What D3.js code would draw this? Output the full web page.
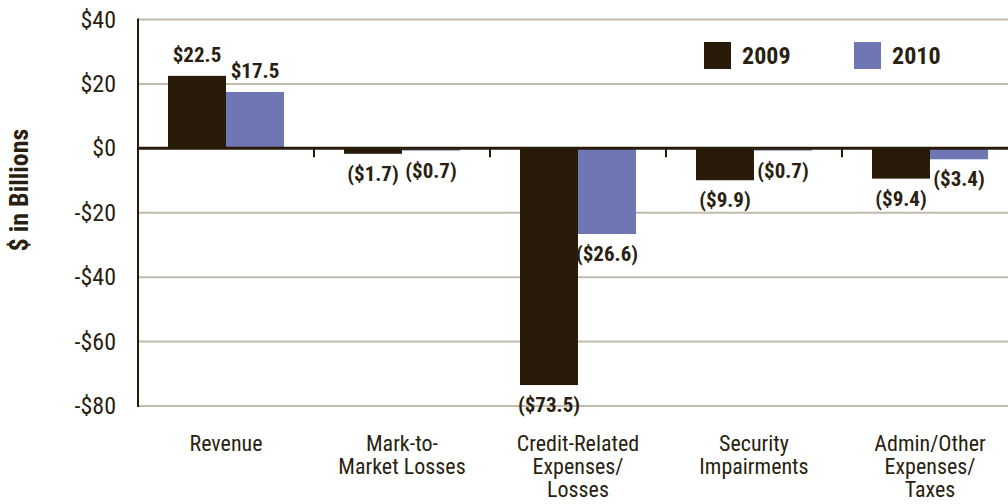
<!DOCTYPE html>
<html>
<head>
<meta charset="utf-8">
<script src="https://cdn.jsdelivr.net/npm/d3@7"></script>
<style>
  body { margin: 0; background: #fff; }
  text { font-family: "Liberation Sans Narrow", "Roboto Condensed", "Liberation Sans", sans-serif; fill: #2a1f10; }
</style>
</head>
<body>
<script>
// data
var categories = ["Revenue", "Mark-to-Market Losses", "Credit-Related Expenses/ Losses", "Security Impairments", "Admin/Other Expenses/ Taxes"];
var categoryLines = [["Revenue"], ["Mark-to-", "Market Losses"], ["Credit-Related", "Expenses/", "Losses"], ["Security", "Impairments"], ["Admin/Other", "Expenses/", "Taxes"]];
var series = ["2009", "2010"];
var values2009 = [22.5, -1.7, -73.5, -9.9, -9.4];
var values2010 = [17.5, -0.7, -26.6, -0.7, -3.4];
var yTicks = [40, 20, 0, -20, -40, -60, -80];

var colors = { "2009": "#281b0a", "2010": "#6e76b4" };

var w = 1008, h = 504;
var mLeft = 138, mRight = 1018, mTop = 19.5, mBottom = 406;

var svg = d3.select("body").append("svg")
  .attr("width", w)
  .attr("height", h);

var y = d3.scaleLinear().domain([-80, 40]).range([mBottom, mTop]);
var x0 = d3.scaleBand().domain(categories).range([mLeft, mRight]);
var x1 = d3.scaleBand().domain(series).range([30, x0.bandwidth() - 30]);

// gridlines
svg.selectAll(".grid")
  .data(yTicks.filter(d => d != 0))
  .enter().append("line")
  .attr("x1", mLeft).attr("x2", w)
  .attr("y1", d => y(d)).attr("y2", d => y(d))
  .attr("stroke", "#c2bbad")
  .attr("stroke-width", 2);

// y tick labels
svg.selectAll(".ylab")
  .data(yTicks)
  .enter().append("text")
  .attr("x", 116)
  .attr("y", d => y(d) + 8)
  .attr("text-anchor", "end")
  .style("font-size", "24px")
  .text(d => d < 0 ? "-$" + Math.abs(d) : "$" + d);

// y title
svg.append("text")
  .attr("transform", "translate(28, 190) rotate(-90)")
  .attr("text-anchor", "middle")
  .style("font-size", "26px")
  .style("font-weight", "bold")
  .text("$ in Billions");

var rows = categories.map((c, i) => ({ cat: c, vals: [values2009[i], values2010[i]] }));

var groups = svg.selectAll(".cat")
  .data(rows)
  .enter().append("g")
  .attr("transform", d => "translate(" + x0(d.cat) + ",0)");

groups.selectAll("rect")
  .data(d => d.vals.map((v, j) => ({ s: series[j], v: v })))
  .enter().append("rect")
  .attr("x", d => x1(d.s))
  .attr("width", x1.bandwidth())
  .attr("y", d => y(Math.max(0, d.v)))
  .attr("height", d => Math.abs(y(d.v) - y(0)))
  .attr("fill", d => colors[d.s]);

groups.selectAll(".val")
  .data(d => d.vals.map((v, j) => ({ s: series[j], v: v })))
  .enter().append("text")
  .attr("x", d => x1(d.s) + x1.bandwidth() / 2)
  .attr("y", d => d.v >= 0 ? y(d.v) - 14 : y(d.v) + 27)
  .attr("text-anchor", "middle")
  .style("font-size", "21px")
  .style("font-weight", "bold")
  .text(d => d.v >= 0 ? "$" + d.v.toFixed(1) : "($" + Math.abs(d.v).toFixed(1) + ")");

// category labels, one text per line
groups.each(function (d, i) {
  d3.select(this).selectAll(".catlab")
    .data(categoryLines[i])
    .enter().append("text")
    .attr("x", x0.bandwidth() / 2)
    .attr("y", (line, k) => 451 + k * 23)
    .attr("text-anchor", "middle")
    .style("font-size", "22px")
    .text(line => line);
});

// zero line and ticks
svg.append("line")
  .attr("x1", mLeft).attr("x2", w)
  .attr("y1", y(0)).attr("y2", y(0))
  .attr("stroke", "#281b0a")
  .attr("stroke-width", 3);

svg.selectAll(".tick")
  .data(categories.slice(1))
  .enter().append("line")
  .attr("x1", d => x0(d)).attr("x2", d => x0(d))
  .attr("y1", y(0)).attr("y2", y(0) + 9)
  .attr("stroke", "#281b0a")
  .attr("stroke-width", 2);

// left axis
svg.append("line")
  .attr("x1", mLeft).attr("x2", mLeft)
  .attr("y1", mTop - 1).attr("y2", mBottom + 1)
  .attr("stroke", "#281b0a")
  .attr("stroke-width", 2);

// legend
var legend = svg.selectAll(".legend")
  .data(series)
  .enter().append("g")
  .attr("transform", (d, i) => "translate(" + (704 + i * 150) + ",42)");
legend.append("rect")
  .attr("width", 27).attr("height", 27)
  .attr("fill", d => colors[d]);
legend.append("text")
  .attr("x", 38).attr("y", 22)
  .style("font-size", "24px")
  .style("font-weight", "bold")
  .text(d => d);
</script>
</body>
</html>
